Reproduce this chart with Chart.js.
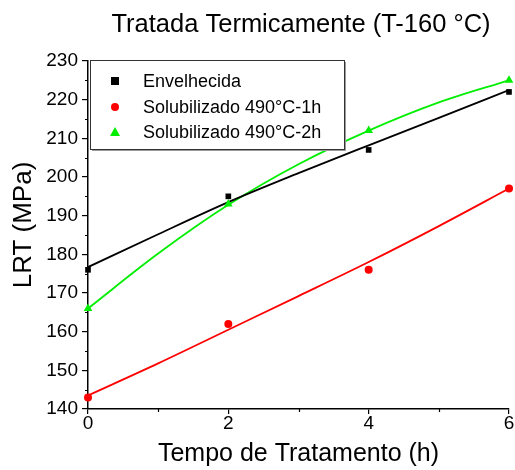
<!DOCTYPE html>
<html>
<head>
<meta charset="utf-8">
<script src="https://cdn.jsdelivr.net/npm/chart.js@4.4.1/dist/chart.umd.min.js"></script>
<style>
  html, body { margin: 0; padding: 0; background: #fff; }
</style>
</head>
<body>
<canvas id="grafico-lrt" width="515" height="470"></canvas>
<script>
// dados
const tempos = [0, 2, 4, 6];
const envelhecida = [176, 195, 207, 222];
const solub1h = [143, 162, 176, 197];
const solub2h = [166, 193, 212, 225];

// curvas de ajuste
const temposAjuste = [0, 1, 2, 3, 4, 5, 6];
const ajusteEnv = [176.7, 185.2, 193.5, 201.0, 208.2, 215.3, 222.5];
const ajuste1h = [143.5, 151.8, 160.5, 169.2, 178.0, 187.3, 197.0];
const ajuste2h = [166.0, 180.2, 192.8, 203.3, 212.0, 219.3, 225.0];

const nomes = ['Envelhecida', 'Solubilizado 490°C-1h', 'Solubilizado 490°C-2h'];
const cores = ['#000000', '#ff0000', '#00ee00'];
const marcadores = ['rect', 'circle', 'triangle'];

const ticksY = [140, 150, 160, 170, 180, 190, 200, 210, 220, 230];
const minorY = [145, 155, 165, 175, 185, 195, 205, 215, 225];
const minorX = [1, 3, 5];

const fonte = '"Liberation Sans", Arial, sans-serif';

const pares = (xs, ys) => xs.map((x, i) => ({ x: x, y: ys[i] }));

function pontos(i, ys) {
    return {
        label: nomes[i],
        data: pares(tempos, ys),
        showLine: false,
        pointStyle: marcadores[i],
        pointRadius: i === 2 ? 5 : 4,
        pointBackgroundColor: cores[i],
        pointBorderColor: cores[i],
        pointBorderWidth: 0,
        clip: false,
        order: 1
    };
}

function ajuste(i, ys) {
    return {
        label: nomes[i] + ' (ajuste)',
        data: pares(temposAjuste, ys),
        showLine: true,
        borderColor: cores[i],
        borderWidth: 1.8,
        pointRadius: 0,
        tension: 0.4,
        cubicInterpolationMode: 'monotone',
        order: 2
    };
}

// titulo, titulo do eixo y, legenda e ticks menores
const extras = {
    id: 'extras',
    afterDraw(chart) {
        const ctx = chart.ctx;
        const area = chart.chartArea;
        const sx = chart.scales.x;
        const sy = chart.scales.y;

        ctx.save();
        ctx.fillStyle = '#000';
        ctx.font = '25.5px ' + fonte;
        ctx.textAlign = 'center';
        ctx.textBaseline = 'middle';
        ctx.fillText('Tratada Termicamente (T-160 °C)', 301, 25);

        // titulo do eixo y
        ctx.save();
        ctx.translate(24, 225);
        ctx.rotate(-Math.PI / 2);
        ctx.font = '26px ' + fonte;
        ctx.fillText('LRT (MPa)', 0, 0);
        ctx.restore();

        // ticks menores
        ctx.strokeStyle = '#000';
        ctx.lineWidth = 1.2;
        ctx.beginPath();
        minorY.forEach(v => {
            const py = Math.round(sy.getPixelForValue(v)) + 0.5;
            ctx.moveTo(area.left - 3, py);
            ctx.lineTo(area.left, py);
        });
        minorX.forEach(v => {
            const px = Math.round(sx.getPixelForValue(v)) + 0.5;
            ctx.moveTo(px, area.bottom);
            ctx.lineTo(px, area.bottom + 3);
        });
        ctx.stroke();

        // legenda
        const bx = 90, by = 60, bw = 254, bh = 89;
        ctx.fillStyle = '#9a9a9a';
        ctx.fillRect(bx + 2, by + 2, bw, bh);
        ctx.fillStyle = '#fff';
        ctx.fillRect(bx, by, bw, bh);
        ctx.strokeStyle = '#333';
        ctx.lineWidth = 1;
        ctx.strokeRect(bx + 0.5, by + 0.5, bw, bh);

        ctx.font = '18px ' + fonte;
        ctx.textAlign = 'left';
        ctx.textBaseline = 'middle';
        const linhas = [81, 107, 132];
        nomes.forEach((nome, i) => {
            const ly = linhas[i];
            ctx.fillStyle = cores[i];
            if (i === 0) {
                ctx.fillRect(111, ly - 4, 8, 8);
            } else if (i === 1) {
                ctx.beginPath();
                ctx.arc(115, ly, 4, 0, Math.PI * 2);
                ctx.fill();
            } else {
                ctx.beginPath();
                ctx.moveTo(115, ly - 5);
                ctx.lineTo(120, ly + 4);
                ctx.lineTo(110, ly + 4);
                ctx.closePath();
                ctx.fill();
            }
            ctx.fillStyle = '#000';
            ctx.fillText(nome, 143, ly + 1);
        });
        ctx.restore();
    }
};

new Chart(document.getElementById('grafico-lrt'), {
    type: 'scatter',
    data: {
        datasets: [
            ajuste(0, ajusteEnv),
            ajuste(1, ajuste1h),
            ajuste(2, ajuste2h),
            pontos(0, envelhecida),
            pontos(1, solub1h),
            pontos(2, solub2h)
        ]
    },
    options: {
        responsive: false,
        animation: false,
        devicePixelRatio: 1,
        layout: {
            padding: { top: 61, right: 6, left: 0, bottom: 0 }
        },
        plugins: {
            legend: { display: false },
            title: { display: false },
            tooltip: { enabled: false }
        },
        scales: {
            x: {
                type: 'linear',
                min: 0,
                max: 6,
                afterFit: s => { s.height = 61; },
                grid: { drawOnChartArea: false, drawTicks: true, tickLength: 5, color: '#000', lineWidth: 1.2 },
                border: { color: '#000', width: 1.5 },
                ticks: {
                    stepSize: 2,
                    padding: -2,
                    color: '#000',
                    font: { family: fonte, size: 19 }
                },
                title: {
                    display: true,
                    text: 'Tempo de Tratamento (h)',
                    color: '#000',
                    font: { family: fonte, size: 25 },
                    padding: { top: 0, bottom: 1 }
                }
            },
            y: {
                min: 140,
                max: 230,
                afterFit: s => { s.width = 88; },
                afterBuildTicks: s => { s.ticks = ticksY.map(v => ({ value: v })); },
                grid: { drawOnChartArea: false, drawTicks: true, tickLength: 6, color: '#000', lineWidth: 1.2 },
                border: { color: '#000', width: 1.5 },
                ticks: {
                    padding: 4,
                    color: '#000',
                    font: { family: fonte, size: 19 }
                },
                title: { display: false }
            }
        }
    },
    plugins: [extras]
});
</script>
</body>
</html>
